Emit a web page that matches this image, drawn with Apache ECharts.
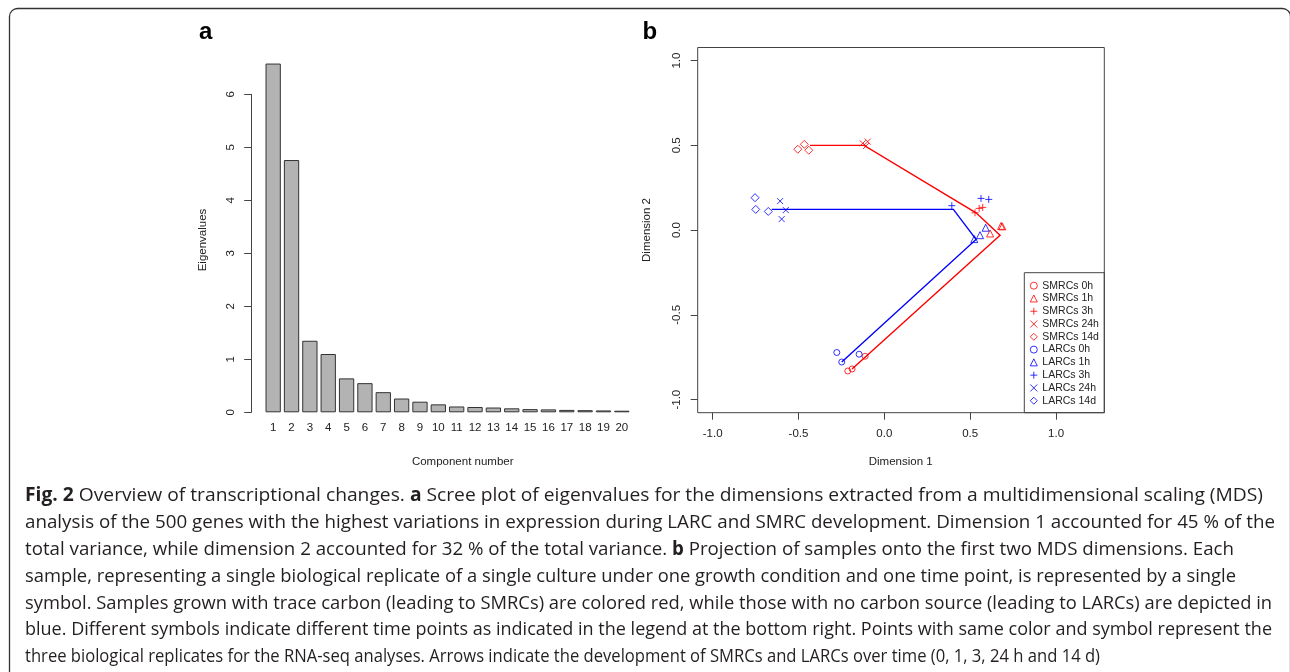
<!DOCTYPE html>
<html>
<head>
<meta charset="utf-8">
<title>Fig. 2 Overview of transcriptional changes</title>
<script src="https://cdn.jsdelivr.net/npm/echarts@6/dist/echarts.min.js"></script>
<style>
    html, body { margin: 0; padding: 0; background: #fff; }
    #main { width: 1290px; height: 672px; }
</style>
</head>
<body>
<div id="main"></div>
<script>
    // panel a: scree plot
    var components = ['1', '2', '3', '4', '5', '6', '7', '8', '9', '10',
        '11', '12', '13', '14', '15', '16', '17', '18', '19', '20'];
    var eigenvalues = [6.58, 4.76, 1.35, 1.10, 0.64, 0.55, 0.38, 0.26, 0.20, 0.15,
        0.11, 0.10, 0.09, 0.075, 0.06, 0.055, 0.045, 0.04, 0.035, 0.03];
    var eigenTicks = [0, 1, 2, 3, 4, 5, 6];

    // panel b: MDS projection
    var dimTicks = [-1, -0.5, 0, 0.5, 1];
    var groupNames = ['SMRCs 0h', 'SMRCs 1h', 'SMRCs 3h', 'SMRCs 24h', 'SMRCs 14d',
        'LARCs 0h', 'LARCs 1h', 'LARCs 3h', 'LARCs 24h', 'LARCs 14d'];
    var smrc0h = [[-0.213, -0.831], [-0.188, -0.819], [-0.112, -0.744]];
    var smrc1h = [[0.680, 0.025], [0.687, 0.022], [0.616, -0.020]];
    var smrc3h = [[0.528, 0.102], [0.552, 0.128], [0.573, 0.134]];
    var smrc24h = [[-0.126, 0.512], [-0.097, 0.522], [-0.107, 0.496]];
    var smrc14d = [[-0.504, 0.477], [-0.466, 0.506], [-0.440, 0.471]];
    var larc0h = [[-0.277, -0.722], [-0.248, -0.778], [-0.147, -0.732]];
    var larc1h = [[0.590, 0.014], [0.557, -0.030], [0.524, -0.053]];
    var larc3h = [[0.563, 0.187], [0.608, 0.181], [0.393, 0.144]];
    var larc24h = [[-0.607, 0.171], [-0.574, 0.118], [-0.598, 0.065]];
    var larc14d = [[-0.753, 0.191], [-0.749, 0.122], [-0.676, 0.110]];
    // arrow paths 0h -> 1h -> 3h -> 24h -> 14d
    var smrcPath = [[-0.188, -0.819], [0.674, -0.030], [0.534, 0.102], [-0.118, 0.500], [-0.433, 0.500]];
    var larcPath = [[-0.248, -0.778], [0.534, -0.055], [0.402, 0.122], [-0.594, 0.122], [-0.656, 0.122]];

    var captionLines = [
        '{b|Fig. 2} Overview of transcriptional changes. {b|a} Scree plot of eigenvalues for the dimensions extracted from a multidimensional scaling (MDS)',
        'analysis of the 500 genes with the highest variations in expression during LARC and SMRC development. Dimension 1 accounted for 45 % of the',
        'total variance, while dimension 2 accounted for 32 % of the total variance. {b|b} Projection of samples onto the first two MDS dimensions. Each',
        'sample, representing a single biological replicate of a single culture under one growth condition and one time point, is represented by a single',
        'symbol. Samples grown with trace carbon (leading to SMRCs) are colored red, while those with no carbon source (leading to LARCs) are depicted in',
        'blue. Different symbols indicate different time points as indicated in the legend at the bottom right. Points with same color and symbol represent the',
        'three biological replicates for the RNA-seq analyses. Arrows indicate the development of SMRCs and LARCs over time (0, 1, 3, 24 h and 14 d)'
    ];
    // right end of each caption line in the reference
    var captionEnds = [1263, 1275, 1234, 1236, 1272, 1272, 1100];

    var RED = '#ff0000', BLUE = '#0000ff';
    var AXIS = '#444', INK = '#222';
    var FONT = '"Liberation Sans", Arial, Helvetica, sans-serif';
    var CAP_FONT = '"Open Sans", "Noto Sans", sans-serif';
    var CAP_SIZE = 19;

    var plusPath = 'path://M5,0L5,10M0,5L10,5';
    var crossPath = 'path://M0,0L10,10M10,0L0,10';
    var groupData = [smrc0h, smrc1h, smrc3h, smrc24h, smrc14d, larc0h, larc1h, larc3h, larc24h, larc14d];
    var groupSymbols = ['circle', 'triangle', plusPath, crossPath, 'diamond'];
    var groupSizes = [6, 7, 7, 6, 8];

    //散点系列
    var scatterSeries = groupData.map(function (d, i) {
        var col = i < 5 ? RED : BLUE;
        return {
            type: 'scatter',
            name: groupNames[i],
            xAxisIndex: 1,
            yAxisIndex: 1,
            data: d,
            symbol: groupSymbols[i % 5],
            symbolSize: groupSizes[i % 5],
            itemStyle: {color: 'transparent', borderColor: col, borderWidth: 1},
            silent: true
        };
    });

    function arrowSeries(path, col) {
        return {
            type: 'lines',
            coordinateSystem: 'cartesian2d',
            xAxisIndex: 1,
            yAxisIndex: 1,
            polyline: true,
            symbol: ['none', 'arrow'],
            symbolSize: 8,
            lineStyle: {color: col, width: 1.4, opacity: 1},
            data: [{coords: path}],
            silent: true
        };
    }

    // caption: measure with canvas, fit every line to its reference width
    var measureCtx = document.createElement('canvas').getContext('2d');
    function lineWidth(str) {
        var w = 0;
        str.split(/(\{b\|[^}]*\})/).forEach(function (part) {
            if (!part) return;
            var m = part.match(/^\{b\|([^}]*)\}$/);
            measureCtx.font = (m ? 'bold ' : '') + CAP_SIZE + 'px ' + CAP_FONT;
            w += measureCtx.measureText(m ? m[1] : part).width;
        });
        return w;
    }

    var graphics = [
        {type: 'rect', shape: {x: 9.5, y: 8.5, width: 1281, height: 700, r: 8},
            style: {fill: 'none', stroke: '#333', lineWidth: 1.3}, silent: true},
        {type: 'text', x: 199, y: 44, style: {text: 'a', fontFamily: FONT, fontSize: 24, fontWeight: 'bold', fill: '#000', textVerticalAlign: 'bottom'}},
        {type: 'text', x: 642.5, y: 44, style: {text: 'b', fontFamily: FONT, fontSize: 24, fontWeight: 'bold', fill: '#000', textVerticalAlign: 'bottom'}},
        {type: 'text', x: 203.3, y: 240, rotation: Math.PI / 2,
            style: {text: 'Eigenvalues', fontFamily: FONT, fontSize: 11.5, fill: INK, textAlign: 'center', textVerticalAlign: 'middle'}},
        {type: 'text', x: 462.7, y: 462,
            style: {text: 'Component number', fontFamily: FONT, fontSize: 11.5, fill: INK, textAlign: 'center', textVerticalAlign: 'middle'}},
        {type: 'text', x: 900.7, y: 462,
            style: {text: 'Dimension 1', fontFamily: FONT, fontSize: 11.5, fill: INK, textAlign: 'center', textVerticalAlign: 'middle'}},
        {type: 'text', x: 647.3, y: 230, rotation: Math.PI / 2,
            style: {text: 'Dimension 2', fontFamily: FONT, fontSize: 11.5, fill: INK, textAlign: 'center', textVerticalAlign: 'middle'}},
        {type: 'rect', shape: {x: 1024.3, y: 272.7, width: 80, height: 140},
            style: {fill: 'none', stroke: AXIS, lineWidth: 1}, silent: true}
    ];
    captionLines.forEach(function (t, i) {
        graphics.push({
            type: 'text', x: 25, y: 496 + i * 26.8,
            scaleX: (captionEnds[i] - 25) / lineWidth(t),
            style: {
                text: t, fontFamily: CAP_FONT, fontSize: CAP_SIZE, fill: '#231f20',
                textVerticalAlign: 'middle',
                rich: {b: {fontFamily: CAP_FONT, fontSize: CAP_SIZE, fontWeight: 'bold', fill: '#231f20'}}
            }
        });
    });

    var tickFmt = function (v) { return Number(v).toFixed(1); };

    var option = {
        animation: false,
        backgroundColor: '#fff',
        textStyle: {fontFamily: FONT},
        grid: [
            {left: 264, top: 94.3, width: 367, height: 318},
            {left: 697.7, top: 47.5, width: 406.6, height: 365.2, show: true, borderColor: AXIS, borderWidth: 1}
        ],
        xAxis: [
            {
                gridIndex: 0, type: 'category', data: components,
                axisLine: {show: false}, axisTick: {show: false},
                axisLabel: {interval: 0, margin: 10, fontSize: 11.5, color: INK, fontFamily: FONT}
            },
            {
                gridIndex: 1, type: 'value', min: -1.087, max: 1.281,
                axisLine: {show: false, onZero: false},
                axisTick: {show: true, length: 7, lineStyle: {color: AXIS}, customValues: dimTicks},
                axisLabel: {margin: 15, fontSize: 11.5, color: INK, fontFamily: FONT, customValues: dimTicks, formatter: tickFmt},
                splitLine: {show: false}
            }
        ],
        yAxis: [
            {
                gridIndex: 0, type: 'value', min: 0, max: 6, offset: 12.8,
                axisLine: {show: true, onZero: false, lineStyle: {color: AXIS, width: 1}},
                axisTick: {show: true, length: 7, lineStyle: {color: AXIS}, customValues: eigenTicks},
                axisLabel: {rotate: 90, margin: 14, fontSize: 11.5, color: INK, fontFamily: FONT, customValues: eigenTicks},
                splitLine: {show: false}
            },
            {
                gridIndex: 1, type: 'value', min: -1.077, max: 1.077,
                axisLine: {show: false, onZero: false},
                axisTick: {show: true, length: 7, lineStyle: {color: AXIS}, customValues: dimTicks},
                axisLabel: {rotate: 90, margin: 15, fontSize: 11.5, color: INK, fontFamily: FONT, customValues: dimTicks, formatter: tickFmt},
                splitLine: {show: false}
            }
        ],
        legend: {
            data: groupNames,
            orient: 'vertical',
            left: 1029.8,
            top: 279.3,
            padding: 0,
            itemWidth: 7,
            itemHeight: 7,
            itemGap: 0,
            selectedMode: false,
            itemStyle: {color: 'transparent', borderWidth: 1},
            textStyle: {fontSize: 10.5, color: INK, fontFamily: FONT, lineHeight: 12.78}
        },
        graphic: graphics,
        series: [
            {
                type: 'bar',
                xAxisIndex: 0,
                yAxisIndex: 0,
                data: eigenvalues,
                barWidth: 15.3,
                clip: false,
                itemStyle: {color: '#b3b3b3', borderColor: '#333', borderWidth: 1},
                silent: true
            },
            arrowSeries(smrcPath, RED),
            arrowSeries(larcPath, BLUE)
        ].concat(scatterSeries)
    };

    var chart = echarts.init(document.getElementById('main'));
    chart.setOption(option);
</script>
</body>
</html>
